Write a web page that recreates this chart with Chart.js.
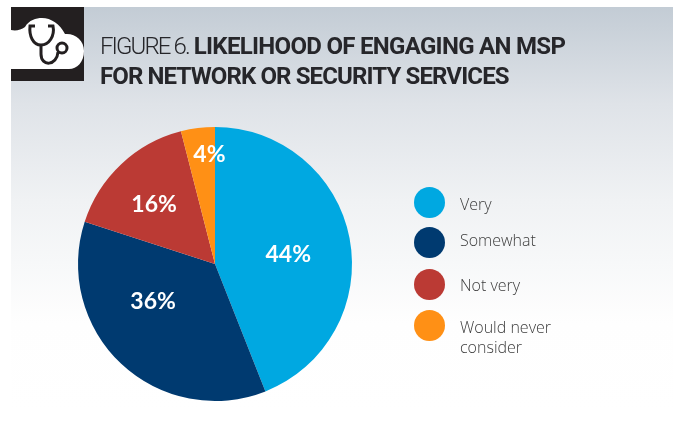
<!DOCTYPE html>
<html>
<head>
<meta charset="utf-8">
<script src="https://cdn.jsdelivr.net/npm/chart.js@4/dist/chart.umd.min.js"></script>
<style>
  html, body { margin: 0; padding: 0; background: #fff; }
  #page { position: relative; width: 673px; height: 431px; overflow: hidden; }
  #panel { position: absolute; left: 11px; top: 7px; width: 662px; height: 405px;
           background: linear-gradient(#c3ccd5 0%, #dfe3e8 24%, #f0f2f4 48%, #fefefe 78%, #ffffff 100%); }
  #pie { position: absolute; left: 0; top: 0; }
  #badge { position: absolute; left: 11px; top: 7px; }
  h1 { position: absolute; left: 100px; top: 31px; margin: 0; font: 400 24px/30px Roboto, sans-serif;
       color: #26262a; white-space: nowrap; }
  h1 .lead { font-weight: 300; letter-spacing: -1.9px; }
  h1 .top { font-weight: 700; letter-spacing: -0.7px; margin-left: -1px; }
  h1 .bottom { font-weight: 700; letter-spacing: -0.875px; }
  .key { position: absolute; left: 414px; width: 31px; height: 31px; border-radius: 50%; }
  .name { position: absolute; left: 460px; font: 300 16px/20px "Open Sans", sans-serif; color: #3c3c3c; white-space: nowrap; }
</style>
</head>
<body>
<div id="page">
  <div id="panel"></div>
  <canvas id="pie" width="673" height="431"></canvas>
  <svg id="badge" width="73" height="74" viewBox="0 0 73 74">
    <rect width="73" height="74" fill="#231f20"/>
    <path d="M0 23 C5 24 10 23 14 20 C18 13 25 11 31 11 C40 11 49 17 54 27 C64 26 73 33 73 44 C73 55 66 62 58 62 H0 Z" fill="#fff"/>
    <g fill="none" stroke="#231f20" stroke-width="3">
      <path d="M24 19 H19 C18 29 22 38 30 38 C38 38 44 29 42 19 H37"/>
      <path d="M30 38 V47 C30 60 46 59 47 45"/>
      <circle cx="51" cy="41" r="5"/>
    </g>
  </svg>
  <h1><span class="lead">FIGURE 6.</span> <span class="top">LIKELIHOOD OF ENGAGING AN MSP</span><br><span class="bottom">FOR NETWORK OR SECURITY SERVICES</span></h1>
  <div class="key" style="top:187px;background:#00a8e1"></div>
  <div class="key" style="top:227px;background:#003a70"></div>
  <div class="key" style="top:269px;background:#bb3a34"></div>
  <div class="key" style="top:310px;background:#ff9015"></div>
  <div class="name" style="top:194px">Very</div>
  <div class="name" style="top:230px">Somewhat</div>
  <div class="name" style="top:275px">Not very</div>
  <div class="name" style="top:317px">Would never<br>consider</div>
</div>
<script>
const categories = ["Very", "Somewhat", "Not very", "Would never consider"];
const shares = [44, 36, 16, 4];
const sliceColors = ["#00a8e1", "#003a70", "#bb3a34", "#ff9015"];
// Hand placement of each percentage relative to its slice centre.
const labelNudgeX = [6, -15, -14, 3];
const labelNudgeY = [3, -12, -9, -41];

// Writes the percentage on every slice.
const sliceLabels = {
  id: "sliceLabels",
  afterDatasetsDraw(chart) {
    const { ctx } = chart;
    const meta = chart.getDatasetMeta(0);
    ctx.save();
    ctx.fillStyle = "#ffffff";
    ctx.font = '700 23px Lato, sans-serif';
    ctx.textAlign = "center";
    ctx.textBaseline = "middle";
    meta.data.forEach((arc, i) => {
      const p = arc.getCenterPoint();
      ctx.fillText(shares[i] + "%", p.x + labelNudgeX[i], p.y + labelNudgeY[i]);
    });
    ctx.restore();
  }
};

new Chart(document.getElementById("pie"), {
  type: "pie",
  data: {
    labels: categories,
    datasets: [{ data: shares, backgroundColor: sliceColors, borderWidth: 0 }]
  },
  options: {
    responsive: false,
    animation: false,
    layout: { padding: { left: 78, right: 321, top: 127, bottom: 30 } },
    plugins: { legend: { display: false }, tooltip: { enabled: false } }
  },
  plugins: [sliceLabels]
});
</script>
</body>
</html>
